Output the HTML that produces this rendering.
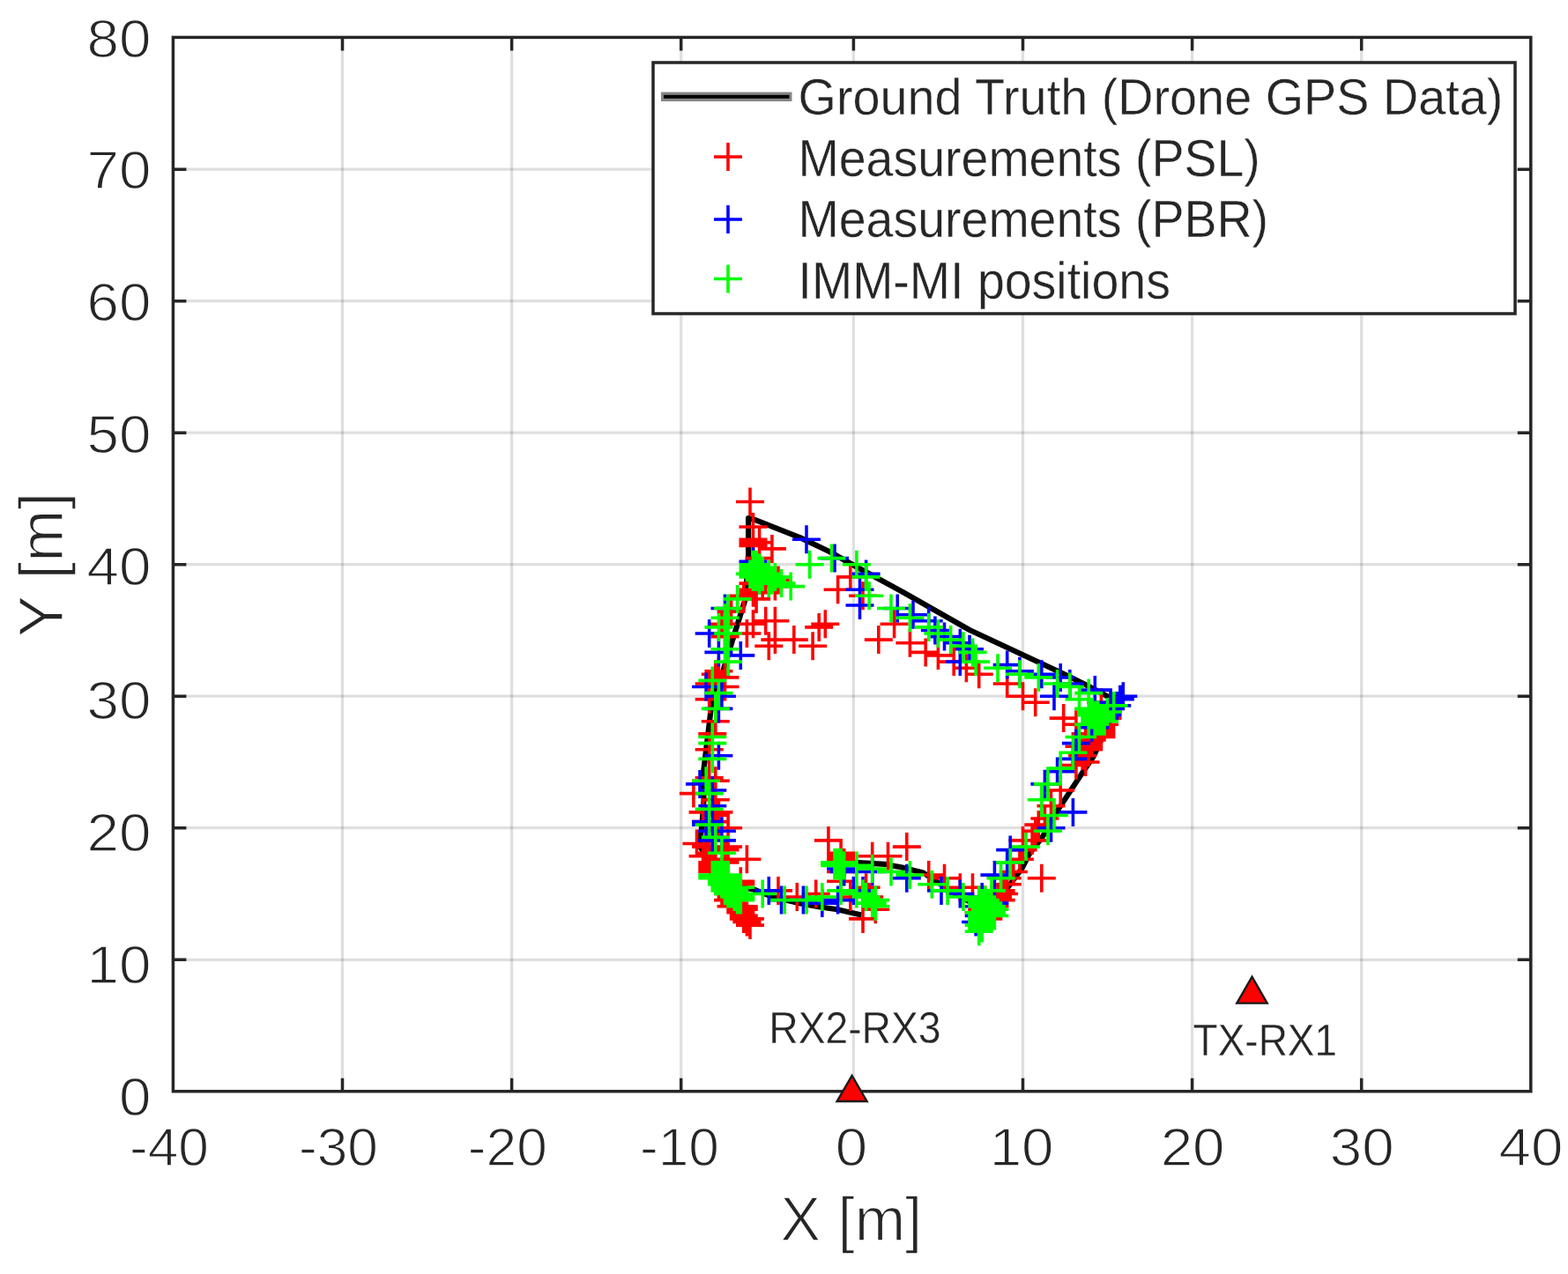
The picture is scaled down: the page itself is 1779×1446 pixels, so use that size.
<!DOCTYPE html>
<html lang="en"><head><meta charset="utf-8"><title>IMM-MI tracking result</title>
<style>html,body{margin:0;padding:0;background:#fff;}body{width:1779px;height:1446px;overflow:hidden;}svg{display:block;}text{font-family:'Liberation Sans', sans-serif;fill:#262626;}</style>
</head><body>
<svg width="1779" height="1446" viewBox="0 0 1779 1446" role="img" aria-label="Tracking result: ground truth, PSL and PBR measurements, IMM-MI positions">
<rect x="0" y="0" width="1779" height="1446" fill="#ffffff"/>
<path d="M388.5 42.4V1238.7M580.6 42.4V1238.7M772.7 42.4V1238.7M968.4 42.4V1238.7M1160.5 42.4V1238.7M1352.6 42.4V1238.7M1544.7 42.4V1238.7" stroke="#262626" stroke-opacity="0.15" stroke-width="3.3" fill="none"/>
<path d="M196.4 1089.3H1736.8M196.4 939.7H1736.8M196.4 790.2H1736.8M196.4 640.7H1736.8M196.4 491.2H1736.8M196.4 341.7H1736.8M196.4 192.2H1736.8" stroke="#262626" stroke-opacity="0.15" stroke-width="3.3" fill="none"/>
<path d="M977.3 1038.5L949.9 1032.3L927.5 1029L907.3 1025.3L877.3 1018.2L854.9 1009.5L812 1003L806 1000L808 990L804.5 975.4L794.1 961L794.9 949.7L796.8 932.2L798.6 907.3L797.4 882.3L801.1 851.1L804.9 819.9L808 792.5L813 775L819.1 765.7L830 730L844.9 682.5L848 650L849.1 630.7L849.1 588L858.2 590.6L908.2 610.4L941.4 626.2L967.4 641L1024.8 672.2L1100 715L1206.6 764.8L1229.9 776.2L1253.2 788.6L1268 797L1245.7 848.2L1239.9 859.8L1227.4 878.1L1207.3 908.6L1199.8 919.9L1183.6 948.6L1167.4 969.8L1159.9 984.8L1146.2 1003.5L1138 1014L1112 1030L1083 1014L1062.4 1000.5L1047.4 990.5L1024.8 984.9L1004 980.8L974 979.1L950 979.5" stroke="#000" stroke-width="6.2" fill="none" stroke-linejoin="round"/>
<path d="M835 569.5h32M851 553.5v32M838.5 598h32M854.5 582v32M838.5 612.2h32M854.5 596.2v32M838.5 615.8h32M854.5 599.8v32M838.5 619.4h32M854.5 603.4v32M845.6 615.8h32M861.6 599.8v32M859.9 622.9h32M875.9 606.9v32M845.6 633.6h32M861.6 617.6v32M867 658.5h32M883 642.5v32M838.5 662.1h32M854.5 646.1v32M838.5 669.2h32M854.5 653.2v32M838.5 672.7h32M854.5 656.7v32M827.8 676.3h32M843.8 660.3v32M842.1 679.9h32M858.1 663.9v32M863.4 665.6h32M879.4 649.6v32M849.2 662.1h32M865.2 646.1v32M842.1 672.7h32M858.1 656.7v32M813.6 694.1h32M829.6 678.1v32M838.5 708.3h32M854.5 692.3v32M831.4 719h32M847.4 703v32M852.7 704.8h32M868.7 688.8v32M863.4 704.8h32M879.4 688.8v32M863.4 726.1h32M879.4 710.1v32M884.8 726.1h32M900.8 710.1v32M856.3 733.3h32M872.3 717.3v32M802.9 708.3h32M818.9 692.3v32M806.5 722.6h32M822.5 706.6v32M799.4 761.7h32M815.4 745.7v32M795.8 765.3h32M811.8 749.3v32M799.4 768.9h32M815.4 752.9v32M806.5 768.9h32M822.5 752.9v32M788.7 776h32M804.7 760v32M948.8 654.9h32M964.8 638.9v32M934.6 669.2h32M950.6 653.2v32M963 676.3h32M979 660.3v32M998.6 708.3h32M1014.6 692.3v32M980.8 726.1h32M996.8 710.1v32M1016.4 729.7h32M1032.4 713.7v32M1034.2 740.4h32M1050.2 724.4v32M1048.4 743.9h32M1064.4 727.9v32M1066.2 751.1h32M1082.2 735.1v32M1080.4 758.2h32M1096.4 742.2v32M1094.7 765.3h32M1110.7 749.3v32M920.3 708.3h32M936.3 692.3v32M913.2 711.9h32M929.2 695.9v32M906.1 733.3h32M922.1 717.3v32M1126.7 776h32M1142.7 760v32M1144.5 790.2h32M1160.5 774.2v32M1158.7 797.3h32M1174.7 781.3v32M1165.8 996.7h32M1181.8 980.7v32M1187.2 897h32M1203.2 881v32M1176.5 914.8h32M1192.5 898.8v32M1169.4 929h32M1185.4 913v32M1162.3 936.1h32M1178.3 920.1v32M1144.5 953.9h32M1160.5 937.9v32M1155.1 953.9h32M1171.1 937.9v32M1158.7 943.3h32M1174.7 927.3v32M1144.5 964.6h32M1160.5 948.6v32M1140.9 975.3h32M1156.9 959.3v32M1133.8 989.5h32M1149.8 973.5v32M1126.7 996.7h32M1142.7 980.7v32M1037.7 993.1h32M1053.7 977.1v32M1055.5 996.7h32M1071.5 980.7v32M923.9 953.9h32M939.9 937.9v32M867 1010.9h32M883 994.9v32M888.3 1018h32M904.3 1002v32M909.7 1014.5h32M925.7 998.5v32M774.5 957.5h32M790.5 941.5v32M781.6 971.7h32M797.6 955.7v32M810.1 961.1h32M826.1 945.1v32M806.5 964.6h32M822.5 948.6v32M810.1 939.7h32M826.1 923.7v32M795.8 932.6h32M811.8 916.6v32M788.7 968.2h32M804.7 952.2v32M785.1 961.1h32M801.1 945.1v32M795.8 818.7h32M811.8 802.7v32M792.3 832.9h32M808.3 816.9v32M788.7 850.7h32M804.7 834.7v32M795.8 886.3h32M811.8 870.3v32M788.7 882.8h32M804.7 866.8v32M770.9 900.6h32M786.9 884.6v32M795.8 907.7h32M811.8 891.7v32M799.4 921.9h32M815.4 905.9v32M795.8 925.5h32M811.8 909.5v32M781.6 921.9h32M797.6 905.9v32M785.1 932.6h32M801.1 916.6v32M799.4 939.7h32M815.4 923.7v32M806.5 779.5h32M822.5 763.5v32M788.7 793.8h32M804.7 777.8v32M1190.7 815.1h32M1206.7 799.1v32M1204.9 822.2h32M1220.9 806.2v32M1233.4 797.3h32M1249.4 781.3v32M1237 822.2h32M1253 806.2v32M1233.4 825.8h32M1249.4 809.8v32M1233.4 829.4h32M1249.4 813.4v32M1233.4 832.9h32M1249.4 816.9v32M1233.4 836.5h32M1249.4 820.5v32M1222.7 840h32M1238.7 824v32M1219.2 843.6h32M1235.2 827.6v32M1219.2 847.2h32M1235.2 831.2v32M1219.2 850.7h32M1235.2 834.7v32M1215.6 865h32M1231.6 849v32M1215.6 832.9h32M1231.6 816.9v32M1208.5 847.2h32M1224.5 831.2v32M1204.9 868.5h32M1220.9 852.5v32M1212.1 857.8h32M1228.1 841.8v32M1244.1 800.9h32M1260.1 784.9v32M1240.5 815.1h32M1256.5 799.1v32M1119.6 1010.9h32M1135.6 994.9v32M1123.1 1014.5h32M1139.1 998.5v32M1119.6 1021.6h32M1135.6 1005.6v32M1116 1018h32M1132 1002v32M1126.7 1003.8h32M1142.7 987.8v32M1098.2 1032.3h32M1114.2 1016.3v32M1094.7 1035.8h32M1110.7 1019.8v32M1105.3 1042.9h32M1121.3 1026.9v32M1073.3 1007.3h32M1089.3 991.3v32M1087.5 1007.3h32M1103.5 991.3v32M1112.4 1028.7h32M1128.4 1012.7v32M835 1050.1h32M851 1034.1v32M831.4 1046.5h32M847.4 1030.5v32M827.8 1039.4h32M843.8 1023.4v32M827.8 1042.9h32M843.8 1026.9v32M835 1042.9h32M851 1026.9v32M824.3 1035.8h32M840.3 1019.8v32M824.3 1032.3h32M840.3 1016.3v32M827.8 1032.3h32M843.8 1016.3v32M813.6 1028.7h32M829.6 1012.7v32M827.8 1028.7h32M843.8 1012.7v32M817.2 1025.1h32M833.2 1009.1v32M810.1 1021.6h32M826.1 1005.6v32M813.6 1018h32M829.6 1002v32M810.1 1014.5h32M826.1 998.5v32M824.3 1000.2h32M840.3 984.2v32M824.3 1003.8h32M840.3 987.8v32M792.3 978.9h32M808.3 962.9v32M792.3 982.4h32M808.3 966.4v32M792.3 986h32M808.3 970v32M792.3 989.5h32M808.3 973.5v32M831.4 975.3h32M847.4 959.3v32M806.5 978.9h32M822.5 962.9v32M810.1 975.3h32M826.1 959.3v32M938.1 968.2h32M954.1 952.2v32M938.1 971.7h32M954.1 955.7v32M938.1 975.3h32M954.1 959.3v32M941.7 978.9h32M957.7 962.9v32M973.7 971.7h32M989.7 955.7v32M991.5 971.7h32M1007.5 955.7v32M1012.8 961.1h32M1028.8 945.1v32M963 1042.9h32M979 1026.9v32M977.3 1032.3h32M993.3 1016.3v32M948.8 1018h32M964.8 1002v32M938.1 1000.2h32M954.1 984.2v32M966.6 1007.3h32M982.6 991.3v32M970.1 1018h32M986.1 1002v32M938.1 989.5h32M954.1 973.5v32" stroke="#ff0000" stroke-width="3.56" fill="none"/>
<path d="M899 612.2h32M915 596.2v32M931 633.6h32M947 617.6v32M838.5 637.2h32M854.5 621.2v32M788.7 719h32M804.7 703v32M799.4 740.4h32M815.4 724.4v32M824.3 743.9h32M840.3 727.9v32M785.1 779.5h32M801.1 763.5v32M802.9 790.2h32M818.9 774.2v32M806.5 690.5h32M822.5 674.5v32M966.6 651.4h32M982.6 635.4v32M959.5 669.2h32M975.5 653.2v32M959.5 687h32M975.5 671v32M1002.2 690.5h32M1018.2 674.5v32M1020 697.7h32M1036 681.7v32M1037.7 704.8h32M1053.7 688.8v32M1044.9 715.5h32M1060.9 699.5v32M1055.5 722.6h32M1071.5 706.6v32M1073.3 729.7h32M1089.3 713.7v32M1084 736.8h32M1100 720.8v32M1073.3 751.1h32M1089.3 735.1v32M1165.8 765.3h32M1181.8 749.3v32M1126.7 754.6h32M1142.7 738.6v32M1140.9 761.7h32M1156.9 745.7v32M1201.4 921.9h32M1217.4 905.9v32M1176.5 939.7h32M1192.5 923.7v32M1169.4 889.9h32M1185.4 873.9v32M1130.2 964.6h32M1146.2 948.6v32M1112.4 993.1h32M1128.4 977.1v32M1126.7 978.9h32M1142.7 962.9v32M1052 1010.9h32M1068 994.9v32M870.5 1021.6h32M886.5 1005.6v32M895.4 1021.6h32M911.4 1005.6v32M916.8 1025.1h32M932.8 1009.1v32M785.1 932.6h32M801.1 916.6v32M792.3 943.3h32M808.3 927.3v32M802.9 943.3h32M818.9 927.3v32M802.9 953.9h32M818.9 937.9v32M792.3 953.9h32M808.3 937.9v32M799.4 804.4h32M815.4 788.4v32M799.4 857.8h32M815.4 841.8v32M778 889.9h32M794 873.9v32M792.3 897h32M808.3 881v32M792.3 914.8h32M808.3 898.8v32M785.1 936.1h32M801.1 920.1v32M1258.3 790.2h32M1274.3 774.2v32M1254.8 793.8h32M1270.8 777.8v32M1251.2 800.9h32M1267.2 784.9v32M1244.1 804.4h32M1260.1 788.4v32M1240.5 811.6h32M1256.5 795.6v32M1244.1 797.3h32M1260.1 781.3v32M1226.3 783.1h32M1242.3 767.1v32M1197.8 776h32M1213.8 760v32M1180 790.2h32M1196 774.2v32M1187.2 768.9h32M1203.2 752.9v32M1222.7 825.8h32M1238.7 809.8v32M1204.9 843.6h32M1220.9 827.6v32M1201.4 861.4h32M1217.4 845.4v32M1183.6 875.6h32M1199.6 859.6v32M1073.3 1014.5h32M1089.3 998.5v32M1098.2 1018h32M1114.2 1002v32M1091.1 1046.5h32M1107.1 1030.5v32M1094.7 1028.7h32M1110.7 1012.7v32M1094.7 1039.4h32M1110.7 1023.4v32M1112.4 1025.1h32M1128.4 1009.1v32M856.3 1010.9h32M872.3 994.9v32M934.6 1021.6h32M950.6 1005.6v32M952.4 1010.9h32M968.4 994.9v32M963 1010.9h32M979 994.9v32M938.1 986h32M954.1 970v32M941.7 989.5h32M957.7 973.5v32M973.7 989.5h32M989.7 973.5v32M1012.8 996.7h32M1028.8 980.7v32" stroke="#0000ff" stroke-width="3.56" fill="none"/>
<path d="M902.6 640.7h32M918.6 624.7v32M927.5 633.6h32M943.5 617.6v32M838.5 640.7h32M854.5 624.7v32M842.1 640.7h32M858.1 624.7v32M845.6 644.3h32M861.6 628.3v32M838.5 644.3h32M854.5 628.3v32M838.5 647.8h32M854.5 631.8v32M835 651.4h32M851 635.4v32M842.1 647.8h32M858.1 631.8v32M849.2 647.8h32M865.2 631.8v32M845.6 651.4h32M861.6 635.4v32M856.3 651.4h32M872.3 635.4v32M849.2 654.9h32M865.2 638.9v32M845.6 658.5h32M861.6 642.5v32M863.4 654.9h32M879.4 638.9v32M859.9 658.5h32M875.9 642.5v32M870.5 662.1h32M886.5 646.1v32M881.2 665.6h32M897.2 649.6v32M856.3 662.1h32M872.3 646.1v32M842.1 654.9h32M858.1 638.9v32M838.5 654.9h32M854.5 638.9v32M820.7 679.9h32M836.7 663.9v32M810.1 690.5h32M826.1 674.5v32M806.5 701.2h32M822.5 685.2v32M799.4 711.9h32M815.4 695.9v32M810.1 719h32M826.1 703v32M806.5 736.8h32M822.5 720.8v32M810.1 751.1h32M826.1 735.1v32M792.3 772.4h32M808.3 756.4v32M799.4 786.6h32M815.4 770.6v32M955.9 640.7h32M971.9 624.7v32M966.6 654.9h32M982.6 638.9v32M970.1 676.3h32M986.1 660.3v32M995 690.5h32M1011 674.5v32M1016.4 701.2h32M1032.4 685.2v32M1037.7 711.9h32M1053.7 695.9v32M1048.4 719h32M1064.4 703v32M1062.6 726.1h32M1078.6 710.1v32M1076.9 733.3h32M1092.9 717.3v32M1087.5 740.4h32M1103.5 724.4v32M1091.1 751.1h32M1107.1 735.1v32M1116 758.2h32M1132 742.2v32M1140.9 765.3h32M1156.9 749.3v32M1162.3 768.9h32M1178.3 752.9v32M1172.9 889.9h32M1188.9 873.9v32M1165.8 907.7h32M1181.8 891.7v32M1180 925.5h32M1196 909.5v32M1172.9 943.3h32M1188.9 927.3v32M1148 961.1h32M1164 945.1v32M1130.2 978.9h32M1146.2 962.9v32M1119.6 996.7h32M1135.6 980.7v32M1041.3 1003.8h32M1057.3 987.8v32M1059.1 1010.9h32M1075.1 994.9v32M874.1 1021.6h32M890.1 1005.6v32M899 1021.6h32M915 1005.6v32M916.8 1018h32M932.8 1002v32M788.7 936.1h32M804.7 920.1v32M795.8 950.4h32M811.8 934.4v32M802.9 968.2h32M818.9 952.2v32M795.8 804.4h32M811.8 788.4v32M792.3 836.5h32M808.3 820.5v32M792.3 843.6h32M808.3 827.6v32M792.3 861.4h32M808.3 845.4v32M785.1 886.3h32M801.1 870.3v32M788.7 900.6h32M804.7 884.6v32M788.7 918.4h32M804.7 902.4v32M1183.6 776h32M1199.6 760v32M1197.8 779.5h32M1213.8 763.5v32M1219.2 786.6h32M1235.2 770.6v32M1208.5 793.8h32M1224.5 777.8v32M1247.6 800.9h32M1263.6 784.9v32M1219.2 804.4h32M1235.2 788.4v32M1240.5 808h32M1256.5 792v32M1222.7 811.6h32M1238.7 795.6v32M1226.3 811.6h32M1242.3 795.6v32M1229.8 811.6h32M1245.8 795.6v32M1233.4 815.1h32M1249.4 799.1v32M1237 818.7h32M1253 802.7v32M1226.3 818.7h32M1242.3 802.7v32M1229.8 818.7h32M1245.8 802.7v32M1233.4 818.7h32M1249.4 802.7v32M1219.2 822.2h32M1235.2 806.2v32M1226.3 822.2h32M1242.3 806.2v32M1208.5 836.5h32M1224.5 820.5v32M1201.4 854.3h32M1217.4 838.3v32M1187.2 872.1h32M1203.2 856.1v32M1222.7 808h32M1238.7 792v32M1226.3 815.1h32M1242.3 799.1v32M1076.9 1018h32M1092.9 1002v32M1108.9 1010.9h32M1124.9 994.9v32M1094.7 1021.6h32M1110.7 1005.6v32M1098.2 1025.1h32M1114.2 1009.1v32M1105.3 1025.1h32M1121.3 1009.1v32M1101.8 1021.6h32M1117.8 1005.6v32M1098.2 1028.7h32M1114.2 1012.7v32M1108.9 1028.7h32M1124.9 1012.7v32M1108.9 1032.3h32M1124.9 1016.3v32M1112.4 1032.3h32M1128.4 1016.3v32M1105.3 1035.8h32M1121.3 1019.8v32M1108.9 1035.8h32M1124.9 1019.8v32M1098.2 1039.4h32M1114.2 1023.4v32M1112.4 1039.4h32M1128.4 1023.4v32M1098.2 1042.9h32M1114.2 1026.9v32M1098.2 1046.5h32M1114.2 1030.5v32M1094.7 1050.1h32M1110.7 1034.1v32M1098.2 1053.6h32M1114.2 1037.6v32M1094.7 1057.2h32M1110.7 1041.2v32M1101.8 1032.3h32M1117.8 1016.3v32M1094.7 1035.8h32M1110.7 1019.8v32M1101.8 1039.4h32M1117.8 1023.4v32M792.3 993.1h32M808.3 977.1v32M810.1 993.1h32M826.1 977.1v32M792.3 996.7h32M808.3 980.7v32M810.1 996.7h32M826.1 980.7v32M795.8 996.7h32M811.8 980.7v32M799.4 996.7h32M815.4 980.7v32M802.9 1000.2h32M818.9 984.2v32M810.1 1000.2h32M826.1 984.2v32M802.9 1003.8h32M818.9 987.8v32M810.1 1003.8h32M826.1 987.8v32M806.5 1007.3h32M822.5 991.3v32M824.3 1007.3h32M840.3 991.3v32M806.5 1010.9h32M822.5 994.9v32M817.2 1010.9h32M833.2 994.9v32M813.6 1014.5h32M829.6 998.5v32M824.3 1014.5h32M840.3 998.5v32M817.2 1018h32M833.2 1002v32M824.3 1018h32M840.3 1002v32M820.7 1021.6h32M836.7 1005.6v32M824.3 1021.6h32M840.3 1005.6v32M810.1 1014.5h32M826.1 998.5v32M820.7 1018h32M836.7 1002v32M813.6 1007.3h32M829.6 991.3v32M817.2 1007.3h32M833.2 991.3v32M820.7 1007.3h32M836.7 991.3v32M849.2 1014.5h32M865.2 998.5v32M795.8 993.1h32M811.8 977.1v32M799.4 993.1h32M815.4 977.1v32M802.9 993.1h32M818.9 977.1v32M806.5 993.1h32M822.5 977.1v32M931 978.9h32M947 962.9v32M931 982.4h32M947 966.4v32M934.6 978.9h32M950.6 962.9v32M934.6 982.4h32M950.6 966.4v32M938.1 978.9h32M954.1 962.9v32M938.1 1010.9h32M954.1 994.9v32M941.7 982.4h32M957.7 966.4v32M955.9 982.4h32M971.9 966.4v32M955.9 1014.5h32M971.9 998.5v32M973.7 986h32M989.7 970v32M995 989.5h32M1011 973.5v32M1016.4 993.1h32M1032.4 977.1v32M963 1014.5h32M979 998.5v32M966.6 1018h32M982.6 1002v32M973.7 1025.1h32M989.7 1009.1v32M977.3 1028.7h32M993.3 1012.7v32M977.3 1021.6h32M993.3 1005.6v32" stroke="#00ff00" stroke-width="3.56" fill="none"/>
<path d="M388.5 1238.7v-15M388.5 42.4v15M580.6 1238.7v-15M580.6 42.4v15M772.7 1238.7v-15M772.7 42.4v15M968.4 1238.7v-15M968.4 42.4v15M1160.5 1238.7v-15M1160.5 42.4v15M1352.6 1238.7v-15M1352.6 42.4v15M1544.7 1238.7v-15M1544.7 42.4v15M196.4 1089.3h15M1736.8 1089.3h-15M196.4 939.7h15M1736.8 939.7h-15M196.4 790.2h15M1736.8 790.2h-15M196.4 640.7h15M1736.8 640.7h-15M196.4 491.2h15M1736.8 491.2h-15M196.4 341.7h15M1736.8 341.7h-15M196.4 192.2h15M1736.8 192.2h-15" stroke="#262626" stroke-width="3.5" fill="none"/>
<rect x="196.4" y="42.4" width="1540.4" height="1196.3" fill="none" stroke="#262626" stroke-width="3.5"/>
<path d="M966.6 1220.8L983.6 1250L949.6 1250Z" fill="#ff0000" stroke="#1a1a1a" stroke-width="2.4" stroke-linejoin="miter"/>
<path d="M1420.5 1108.6L1437.7 1138.6L1403.3 1138.6Z" fill="#ff0000" stroke="#1a1a1a" stroke-width="2.4" stroke-linejoin="miter"/>
<text transform="translate(872.3 1184.2) scale(0.938 1)" font-size="49.3" fill="#000" stroke="#fff" stroke-width="0.4">RX2-RX3</text>
<text transform="translate(1353.6 1198) scale(0.933 1)" font-size="49.3" fill="#000" stroke="#fff" stroke-width="0.4">TX-RX1</text>
<text transform="translate(192 1322.5) scale(1.012 1)" font-size="61.5" text-anchor="middle" stroke="#fff" stroke-width="1.3">-40</text>
<text transform="translate(384 1322.5) scale(1.012 1)" font-size="61.5" text-anchor="middle" stroke="#fff" stroke-width="1.3">-30</text>
<text transform="translate(575.8 1322.5) scale(1.012 1)" font-size="61.5" text-anchor="middle" stroke="#fff" stroke-width="1.3">-20</text>
<text transform="translate(771 1322.5) scale(1.012 1)" font-size="61.5" text-anchor="middle" stroke="#fff" stroke-width="1.3">-10</text>
<text transform="translate(965.9 1322.5) scale(1.066 1)" font-size="61.5" text-anchor="middle" stroke="#fff" stroke-width="1.3">0</text>
<text transform="translate(1159.1 1322.5) scale(1.066 1)" font-size="61.5" text-anchor="middle" stroke="#fff" stroke-width="1.3">10</text>
<text transform="translate(1353.1 1322.5) scale(1.066 1)" font-size="61.5" text-anchor="middle" stroke="#fff" stroke-width="1.3">20</text>
<text transform="translate(1545.3 1322.5) scale(1.066 1)" font-size="61.5" text-anchor="middle" stroke="#fff" stroke-width="1.3">30</text>
<text transform="translate(1736.9 1322.5) scale(1.066 1)" font-size="61.5" text-anchor="middle" stroke="#fff" stroke-width="1.3">40</text>
<text transform="translate(171.5 1265.5) scale(1.066 1)" font-size="61.5" text-anchor="end" stroke="#fff" stroke-width="1.3">0</text>
<text transform="translate(171.5 1115.7) scale(1.066 1)" font-size="61.5" text-anchor="end" stroke="#fff" stroke-width="1.3">10</text>
<text transform="translate(171.5 965.9) scale(1.066 1)" font-size="61.5" text-anchor="end" stroke="#fff" stroke-width="1.3">20</text>
<text transform="translate(171.5 815.8) scale(1.066 1)" font-size="61.5" text-anchor="end" stroke="#fff" stroke-width="1.3">30</text>
<text transform="translate(171.5 663.7) scale(1.066 1)" font-size="61.5" text-anchor="end" stroke="#fff" stroke-width="1.3">40</text>
<text transform="translate(171.5 513.8) scale(1.066 1)" font-size="61.5" text-anchor="end" stroke="#fff" stroke-width="1.3">50</text>
<text transform="translate(171.5 363.9) scale(1.066 1)" font-size="61.5" text-anchor="end" stroke="#fff" stroke-width="1.3">60</text>
<text transform="translate(171.5 214.4) scale(1.066 1)" font-size="61.5" text-anchor="end" stroke="#fff" stroke-width="1.3">70</text>
<text transform="translate(171.5 65.2) scale(1.066 1)" font-size="61.5" text-anchor="end" stroke="#fff" stroke-width="1.3">80</text>
<text transform="translate(965.8 1407.9) scale(0.971 1)" font-size="71" text-anchor="middle" stroke="#fff" stroke-width="1.4">X [m]</text>
<text transform="translate(70.7 641) rotate(-90)" font-size="71" text-anchor="middle" stroke="#fff" stroke-width="1.4">Y [m]</text>
<rect x="741" y="71" width="978" height="285" fill="#ffffff" stroke="#262626" stroke-width="3.5"/>
<path d="M750 109.8H898.5" stroke="#858585" stroke-width="10.4" fill="none"/>
<path d="M753 109.8H895.5" stroke="#000" stroke-width="4" fill="none"/>
<text transform="translate(905.5 130.3) scale(0.957 1)" font-size="58.3" fill="#000" stroke="#fff" stroke-width="0.4">Ground Truth (Drone GPS Data)</text>
<path d="M810 178h32M826 162v32" stroke="#ff0000" stroke-width="3.56" fill="none"/>
<text transform="translate(905.5 200.4) scale(0.952 1)" font-size="58.3" fill="#000" stroke="#fff" stroke-width="0.4">Measurements (PSL)</text>
<path d="M810 249h32M826 233v32" stroke="#0000ff" stroke-width="3.56" fill="none"/>
<text transform="translate(905.5 269.3) scale(0.952 1)" font-size="58.3" fill="#000" stroke="#fff" stroke-width="0.4">Measurements (PBR)</text>
<path d="M810 316.5h32M826 300.5v32" stroke="#00ff00" stroke-width="3.56" fill="none"/>
<text transform="translate(905.5 339.3) scale(0.952 1)" font-size="58.3" fill="#000" stroke="#fff" stroke-width="0.4">IMM-MI positions</text>
</svg>
</body></html>
